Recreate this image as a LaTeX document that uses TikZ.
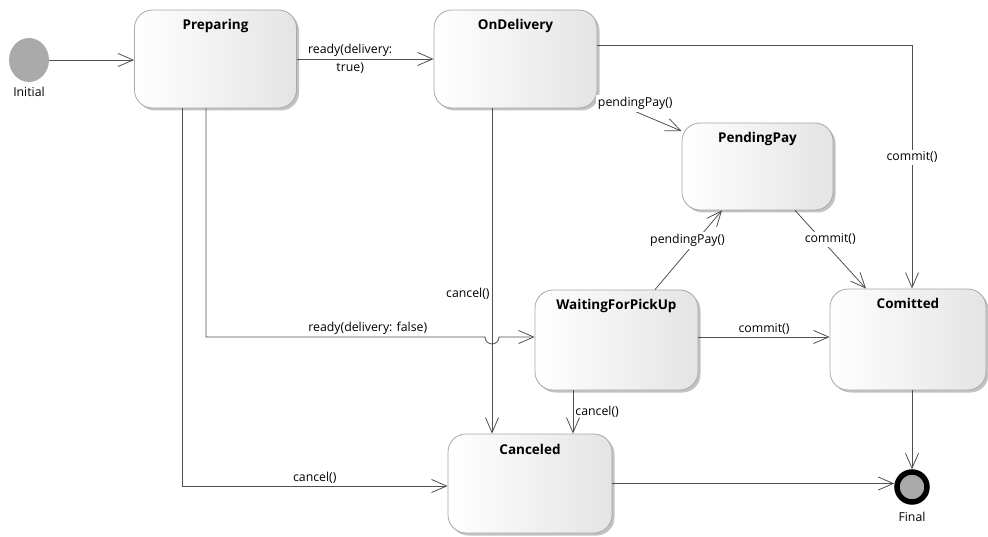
\documentclass[tikz,border=0pt]{standalone}
\usepackage{fontspec}
\setmainfont{Open Sans}
\usetikzlibrary{arrows.meta,shapes.geometric,shadows,positioning}
\definecolor{ink}{HTML}{505050}
\definecolor{stateedge}{HTML}{A8A8A8}
\definecolor{statefill}{HTML}{E4E4E4}
\definecolor{pseudo}{HTML}{AAAAAA}

\begin{document}
\begin{tikzpicture}[x=1pt,y=1pt,font=\fontsize{12}{14}\selectfont,
  state/.style={draw=stateedge,line width=0.8pt,rounded corners=18pt,left color=white,right color=statefill,minimum width=162pt,inner xsep=2pt,inner ysep=0pt,text height=20pt,text depth=78pt,font=\fontsize{13.5}{15}\selectfont\bfseries,drop shadow={shadow xshift=2.5pt,shadow yshift=-2.5pt,fill=black!40,opacity=.6}},
  initst/.style={ellipse,fill=pseudo,minimum width=40pt,minimum height=44pt,inner sep=0pt},
  finalst/.style={circle,draw=black,line width=5.5pt,fill=pseudo,minimum size=30pt,inner sep=0pt},
  trans/.style={-{Straight Barb[length=15pt,width=13pt]},line width=0.8pt,ink},
  lbl/.style={font=\fontsize{12.3}{13}\selectfont,inner sep=2pt,text=black},
  lblbg/.style={lbl,fill=white,align=center}]
  \useasboundingbox (0,0) rectangle (988,536);

  % ===== states =====
  \node[initst] (init) at (29,476) {};
  \node[lbl,below=3pt of init] (initlbl) {Initial};
  \node[state] (prep) at (215.5,477) {Preparing};
  \node[state,minimum width=163pt] (ondel) at (515.5,477) {OnDelivery};
  \node[state,minimum width=151pt,text depth=67pt] (pend) at (757.5,369.5) {PendingPay};
  \node[state,minimum width=163pt,text depth=80pt] (wait) at (616.5,196) {WaitingForPickUp};
  \node[state,minimum width=156pt,text depth=81pt] (comm) at (908,196.5) {Comitted};
  \node[state,minimum width=164pt,text depth=79pt] (canc) at (530,52.5) {Canceled};
  \node[finalst] (fin) at (912,49) {};
  \node[lbl,below=5pt of fin] (finlbl) {Final};

  % ===== transitions =====
  \draw[trans] (init.east) -- (init.east -| prep.west);
  \draw[trans] (prep) -- node[lbl,pos=0.39,align=center]{ready(delivery:\\[5pt]true)} (ondel);
  \draw[trans] ([yshift=14pt]ondel.east) -| node[lblbg,pos=0.73]{commit()} ([xshift=4pt]comm.north);
  \draw[trans] (ondel.-24) -- node[lblbg,pos=0.45,yshift=8pt]{pendingPay()} (pend.155);

  \coordinate (odn) at ([xshift=-23.5pt]ondel.south);
  \draw[trans] (odn) -- node[lbl,pos=0.57,left]{cancel()} (odn |- canc.north);

  \coordinate (pdn) at ([xshift=-9.5pt]prep.south);
  \coordinate (wIn) at ([yshift=3pt]wait.west);
  \coordinate (hop) at (odn |- wIn);
  \draw[trans] (pdn) |- node[lbl,pos=0.79,above]{ready(delivery: false)} ([xshift=-7pt]hop)
    arc[start angle=180,end angle=360,radius=7pt] -- (wIn);

  \coordinate (pcn) at ([xshift=-33.5pt]prep.south);
  \draw[trans] (pcn) |- node[lbl,pos=0.75,above]{cancel()} ([yshift=-2.5pt]canc.west);

  \draw[trans] ([xshift=38.5pt]wait.north) -- node[lblbg,pos=0.62,xshift=-9pt]{pendingPay()} ([xshift=-35.5pt]pend.south);
  \draw[trans] ([xshift=37.5pt]pend.south) -- node[lblbg,pos=0.37,xshift=9pt]{commit()} ([xshift=-42pt]comm.north);

  \coordinate (wOut) at ([yshift=3pt]wait.east);
  \draw[trans] (wOut) -- node[lbl,above]{commit()} (wOut -| comm.west);
  \coordinate (wdn) at ([xshift=-43.5pt]wait.south);
  \draw[trans] (wdn) -- node[lbl,right]{cancel()} (wdn |- canc.north);

  \draw[trans] (canc.east) -- (canc.east -| fin.west);
  \draw[trans] (comm.south -| fin) -- (fin.north);
\end{tikzpicture}
\end{document}
